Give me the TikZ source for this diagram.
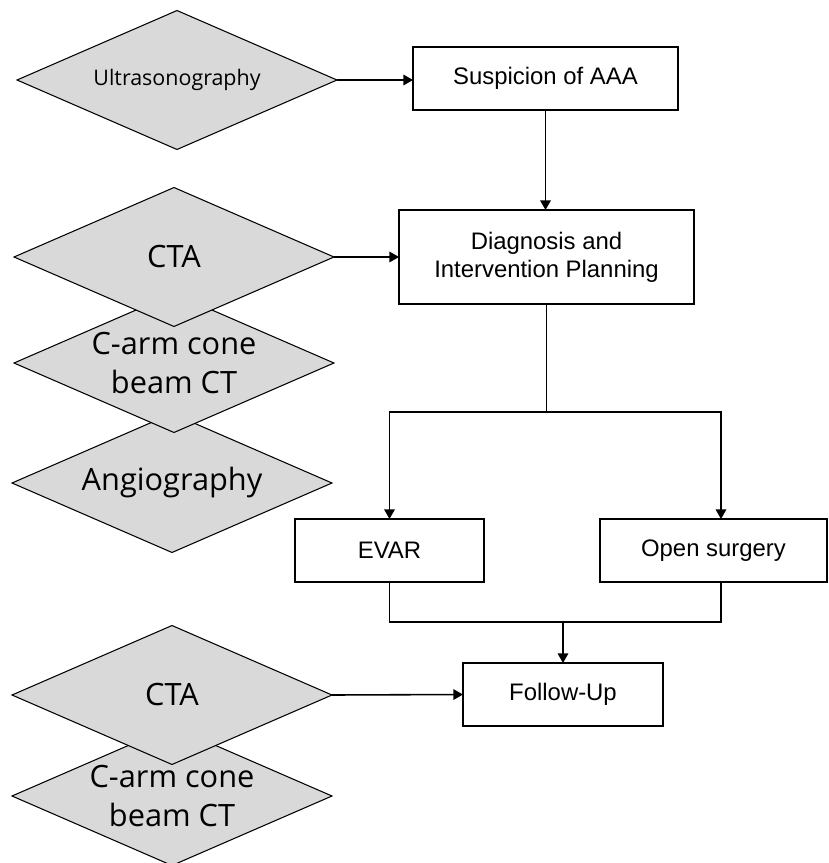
\documentclass[tikz,border=0pt]{standalone}
\usepackage{fontspec}
\setmainfont{Liberation Sans}
\newfontfamily\modfont{Open Sans}
\usepackage{xcolor}
\usetikzlibrary{arrows.meta,positioning,calc,shapes.geometric}
\definecolor{modgray}{RGB}{217,217,217}

\begin{document}
\begin{tikzpicture}[x=0.02cm, y=-0.02cm,
    modality/.style={diamond, draw=black, fill=modgray, line width=0.6pt, inner sep=0pt, outer sep=0pt, minimum width=6.4cm, minimum height=2.78cm},
    modtext/.style={font=\modfont\fontsize{17.5}{22.7}\selectfont, align=center, inner sep=0pt},
    stage/.style={rectangle, draw=black, line width=0.7pt, outer sep=0pt, inner sep=0pt, align=center, font=\fontsize{13.6}{15.9}\selectfont},
    flow/.style={-{Triangle[length=5.5pt,width=6pt]}, line width=0.9pt},
    link/.style={line width=0.9pt}]
    \useasboundingbox (0,0) rectangle (829,863);

    % Tarama: ultrason
    \node[modality] (us) at (177,80) {};
    \node[modtext, font=\modfont\fontsize{12.2}{14}\selectfont] (ustxt) at (us) {Ultrasonography};

    % Tani ve planlama: ust uste binen karolar
    \node[modality] (angio) at (172,483) {};
    \node[modtext] (angiotxt) at (angio) {Angiography};
    \node[modality] (carma) at (174,363) {};
    \node[modtext] (carmatxt) at (carma) {C-arm cone\\beam CT};
    \node[modality] (ctaa) at (174,257) {};
    \node[modtext] (ctaatxt) at (ctaa) {CTA};

    % Takip
    \node[modality] (carmb) at (172,796) {};
    \node[modtext] (carmbtxt) at (carmb) {C-arm cone\\beam CT};
    \node[modality] (ctab) at (172,695) {};
    \node[modtext] (ctabtxt) at (ctab) {CTA};

    % Asamalar
    \node[stage, minimum width=5.3cm, minimum height=1.26cm] (susp) at (545.5,78.5) {Suspicion of AAA};
    \node[stage, minimum width=5.9cm, minimum height=1.88cm] (diag) at (546.5,257) {Diagnosis and\\Intervention Planning};
    \node[stage, minimum width=3.78cm, minimum height=1.26cm] (evar) at (389.5,550.5) {EVAR};
    \node[stage, minimum width=4.54cm, minimum height=1.26cm] (open) at (713.5,550.5) {Open surgery};
    \node[stage, minimum width=4cm, minimum height=1.26cm] (follow) at (563,694.5) {Follow-Up};

    \coordinate (split) at (diag.south |- 0,412);
    \coordinate (merge) at (follow.north |- 0,622);

    \draw[flow] (us.east) -- (us.east -| susp.west);
    \draw[flow] (susp.south) -- (susp.south |- diag.north);
    \draw[flow] (ctaa.east) -- (diag.west);
    \draw[link] (diag.south) -- (split);
    \draw[flow] (split) -| (evar.north);
    \draw[flow] (split) -| ([xshift=0.15cm]open.north);
    \draw[link] (evar.south) |- (merge) -| ([xshift=0.15cm]open.south);
    \draw[flow] (merge) -- (follow.north);
    \draw[flow] (ctab.east) -- (follow.west);
\end{tikzpicture}
\end{document}
